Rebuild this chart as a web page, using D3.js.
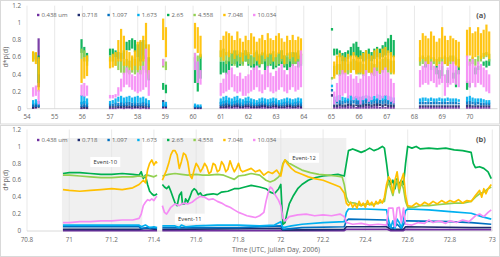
<!doctype html>
<html lang="en">
<head>
<meta charset="UTF-8">
<script src="https://cdnjs.cloudflare.com/ajax/libs/d3/7.8.5/d3.min.js"></script>
<title>d*p(d)</title>
<style>
  body { margin: 0; background: #fff; }
  text { font-family: "Open Sans", sans-serif; }
</style>
</head>
<body>
<script>
// ---------- data ----------
const seriesNames = ["0.438 um", "0.718", "1.097", "1.673", "2.65", "4.558", "7.048", "10.034"];

const yTicks = [0, 0.2, 0.4, 0.6, 0.8, 1, 1.2];
const xTicksA = [54, 55, 56, 57, 58, 59, 60, 61, 62, 63, 64, 65, 66, 67, 68, 69, 70];
const xTicksB = [70.8, 71, 71.2, 71.4, 71.6, 71.8, 72, 72.2, 72.4, 72.6, 72.8, 73];

// panel (a): sample times, grouped by measurement period
const timesA = [
  [54.22, 54.32, 54.42],
  [55.97, 56.07, 56.17],
  [57.0, 57.1, 57.2, 57.3, 57.4, 57.5, 57.6, 57.7, 57.8, 57.9, 58.0, 58.1, 58.2, 58.3, 58.4],
  [58.92, 59.02],
  [60.07, 60.17, 60.27],
  [61.0, 61.1, 61.2, 61.3, 61.4, 61.5, 61.6, 61.7, 61.8, 61.9, 62.0, 62.1, 62.2, 62.3, 62.4,
   62.5, 62.6, 62.7, 62.8, 62.9, 63.0, 63.1, 63.2, 63.3, 63.4, 63.5, 63.6, 63.7, 63.8, 63.9],
  [65.02, 65.1, 65.2, 65.3, 65.4, 65.5, 65.6, 65.7, 65.8, 65.9, 65.97],
  [66.05, 66.15, 66.25, 66.35, 66.45, 66.55, 66.65, 66.75, 66.85, 66.95, 67.05, 67.15, 67.25],
  [68.2, 68.3, 68.4, 68.5, 68.6, 68.7, 68.8, 68.9, 69.0, 69.1, 69.2, 69.3, 69.4, 69.5, 69.6],
  [69.9, 70.0, 70.1, 70.2, 70.3, 70.4, 70.5, 70.6, 70.7]
];

// panel (a): [low, high] spread of each size bin at each sample, in hundredths
const purpleA = [
  [[0,2],[0,3],[25,82]],
  [[0,1],[0,2],[0,1]],
  [[0,1],[0,1],[0,1],[0,2],[0,2],[0,1],[0,2],[0,2],[0,1],[0,2],[0,2],[0,1],[0,2],[0,1],[0,1]],
  [[0,2],[0,2]],
  [[0,1],[0,1],[0,1]],
  [[0,2],[0,2],[0,3],[0,2],[0,2],[0,3],[0,4],[0,2],[0,2],[0,3],[0,3],[0,2],[0,2],[0,2],[0,5],
   [0,4],[0,3],[0,2],[0,2],[0,3],[0,3],[0,2],[0,2],[0,2],[0,3],[0,3],[0,2],[0,2],[0,3],[0,2]],
  [null,[0,2],[0,2],[0,3],[0,2],[0,2],[0,3],[0,3],[0,2],[0,2],[0,2]],
  [[0,2],[0,2],[0,3],[0,3],[0,2],[0,3],[0,3],[0,2],[0,2],[0,2],[0,2],[0,2],[0,2]],
  [[0,2],[0,2],[0,2],[0,2],[0,2],[0,2],[0,2],[0,2],[0,2],[0,2],[0,2],[0,2],[0,2],[0,2],[0,2]],
  [[0,2],[0,2],[0,2],[0,2],[0,2],[0,2],[0,2],[0,2],[0,2]]
];
const navyA = [
  [[0,4],[1,5],[1,4]],
  [[0,3],[0,4],[0,3]],
  [[1,3],[1,3],[1,3],[1,4],[1,4],[1,4],[1,4],[1,4],[1,4],[1,4],[1,4],[1,4],[1,4],[1,3],[1,3]],
  [[1,10],[1,4]],
  [[0,3],[0,3],[0,2]],
  [[1,4],[1,5],[1,6],[2,5],[1,4],[2,5],[2,6],[1,4],[1,4],[2,5],[2,5],[1,4],[1,4],[1,4],[1,4],
   [2,5],[2,5],[1,4],[1,4],[2,5],[2,5],[1,4],[1,4],[1,4],[2,5],[2,5],[1,4],[1,4],[2,5],[1,4]],
  [[14,17],[2,5],[2,5],[3,6],[2,5],[2,5],[3,6],[3,6],[2,5],[3,5],[2,5]],
  [[2,5],[2,6],[3,6],[3,6],[2,5],[3,6],[3,7],[3,6],[2,5],[3,6],[2,5],[2,5],[2,5]],
  [[2,4],[2,4],[2,4],[2,4],[2,4],[2,4],[2,4],[2,4],[2,4],[2,4],[2,4],[2,4],[2,4],[2,4],[2,4]],
  [[2,5],[2,5],[2,4],[2,4],[2,4],[2,4],[2,4],[2,4],[2,4]]
];
const blueA = [
  [[2,6],[2,7],[2,6]],
  [[2,8],[2,9],[2,7]],
  [[3,6],[3,6],[3,7],[3,7],[3,8],[3,7],[3,8],[4,8],[3,7],[3,8],[3,7],[3,7],[3,8],[3,7],[2,6]],
  [[2,6],[2,5]],
  [[1,4],[1,4],[1,3]],
  [[3,8],[3,9],[4,10],[4,9],[3,8],[4,9],[4,10],[3,8],[3,7],[4,9],[4,9],[3,8],[3,7],[3,7],[3,8],
   [4,9],[4,8],[3,7],[3,8],[4,9],[4,8],[3,7],[3,7],[3,8],[4,9],[4,8],[3,7],[3,8],[4,9],[3,8]],
  [[20,23],[5,10],[6,11],[5,10],[5,9],[6,10],[6,11],[5,10],[6,10],[5,10],[5,9]],
  [[5,10],[5,10],[6,11],[6,11],[5,10],[6,11],[6,12],[6,11],[5,10],[6,11],[5,10],[5,9],[5,9]],
  [[5,8],[5,8],[5,8],[5,8],[5,8],[5,8],[5,8],[5,8],[5,8],[5,8],[5,8],[5,8],[5,8],[5,8],[5,7]],
  [[5,9],[5,9],[5,8],[4,8],[5,8],[4,7],[4,7],[4,7],[4,7]]
];
const lightBlueA = [
  [[5,10],[5,11],[4,9]],
  [[5,16],[6,15],[5,12]],
  [[5,9],[6,10],[6,12],[8,14],[7,15],[6,13],[7,14],[8,15],[7,13],[6,14],[7,15],[6,13],[7,14],[6,12],[5,10]],
  [[3,8],[3,8]],
  [[2,6],[2,5],[2,5]],
  [[5,12],[6,14],[7,15],[6,13],[5,12],[6,14],[7,15],[6,12],[5,11],[6,13],[7,14],[6,12],[5,11],[5,10],[6,12],
   [7,13],[6,12],[5,11],[6,12],[7,13],[6,12],[5,10],[5,11],[6,12],[7,13],[6,12],[5,11],[6,12],[7,13],[6,12]],
  [[25,28],[8,14],[9,15],[10,16],[9,14],[8,13],[9,15],[10,16],[9,14],[10,15],[9,14]],
  [[8,14],[9,15],[10,16],[9,15],[8,14],[9,15],[10,17],[10,16],[9,15],[10,16],[9,15],[8,14],[8,13]],
  [[8,12],[8,13],[9,13],[8,12],[9,13],[8,12],[8,12],[9,13],[8,12],[8,12],[9,13],[8,12],[8,12],[8,12],[8,11]],
  [[8,14],[9,15],[8,13],[7,12],[8,12],[7,12],[7,11],[6,10],[6,10]]
];
const greenA = [
  [[58,66],[57,65],[30,62]],
  [[65,81],[60,72],[55,65]],
  [[62,70],[62,70],[60,68],[58,66],[55,65],[58,68],[68,78],[68,80],[70,82],[66,80],[60,75],[55,78],[58,80],[55,75],[33,60]],
  [[22,30],[18,28]],
  [[30,60],[20,55],[35,62]],
  [[40,55],[42,55],[40,56],[45,62],[50,65],[52,68],[48,64],[50,66],[52,65],[55,68],[50,64],[48,62],[45,60],[50,66],[48,62],
   [52,65],[45,60],[48,62],[50,64],[46,60],[48,63],[50,65],[52,68],[48,62],[45,60],[48,64],[50,66],[52,65],[48,62],[50,64]],
  [[91,94],[62,70],[63,70],[60,68],[55,65],[55,66],[58,68],[60,72],[62,76],[60,78],[58,72]],
  [[58,68],[55,66],[56,68],[58,70],[55,66],[58,70],[60,72],[58,70],[60,74],[62,78],[65,82],[62,86],[60,80]],
  [null,null,[48,52],null,[45,55],null,[40,50],[35,45],[38,50],null,[30,45],null,[35,42],[25,45],[40,50]],
  [[22,32],[25,30],null,[40,48],[45,50],null,[50,55],[48,56],[50,58]]
];
const lightGreenA = [
  [[55,65],[55,64],[40,58]],
  [[58,70],[55,68],[50,62]],
  [[55,62],[55,62],[50,60],[45,58],[42,58],[40,55],[42,58],[40,56],[42,60],[40,58],[42,60],[40,58],[45,62],[42,60],[35,55]],
  [[48,58],[45,55]],
  [[55,65],[55,62],[58,64]],
  [[55,68],[55,70],[52,66],[55,68],[52,65],[50,64],[55,68],[52,66],[50,64],[55,68],[52,66],[50,62],[52,65],[55,68],[50,64],
   [52,66],[55,68],[50,64],[52,65],[55,67],[50,63],[52,66],[55,68],[50,62],[52,65],[55,66],[50,64],[52,66],[55,68],[52,64]],
  [[34,37],[38,50],[40,52],[38,52],[40,55],[42,56],[40,52],[42,55],[45,58],[42,56],[40,54]],
  [[40,55],[38,52],[40,56],[42,58],[40,54],[38,52],[42,58],[40,55],[42,58],[45,60],[42,58],[40,56],[42,56]],
  [[50,60],[52,62],[50,60],[52,62],[50,60],[52,60],[50,58],[52,60],[50,60],[52,62],[50,60],[52,62],[54,62],[52,60],[50,58]],
  [null,[50,58],[52,60],[50,58],[52,62],[55,62],[58,65],[60,66],[55,64]]
];
const orangeA = [
  [[55,67],[52,66],[20,60]],
  [[30,58],[35,60],[38,62]],
  [[47,60],[48,64],[50,66],[55,80],[55,93],[50,85],[50,68],[48,66],[45,62],[50,68],[45,78],[50,80],[55,85],[50,100],[40,75]],
  [[80,105],[60,95]],
  [[70,100],[65,95],[60,85]],
  [[60,80],[56,85],[62,90],[60,88],[64,85],[58,80],[62,90],[60,82],[55,78],[62,85],[58,80],[63,88],[60,84],[56,78],[52,82],
   [62,86],[58,80],[60,88],[63,82],[55,80],[60,85],[64,88],[58,82],[52,78],[62,85],[58,80],[60,86],[55,80],[58,84],[62,82]],
  [null,[35,55],[40,62],[45,65],[42,62],[40,60],[45,64],[42,62],[45,66],[40,62],[42,60]],
  [[42,62],[40,65],[45,68],[42,64],[40,62],[45,68],[48,70],[42,65],[45,70],[48,72],[45,68],[42,66],[40,62]],
  [[55,80],[58,88],[55,85],[52,82],[58,90],[55,85],[50,78],[55,82],[58,95],[52,85],[50,80],[55,85],[52,82],[50,80],[48,78]],
  [[60,92],[62,95],[58,88],[60,90],[62,95],[58,88],[60,92],[62,98],[58,90]]
];
const pinkA = [
  [[14,25],[15,27],[5,22]],
  [[15,28],[14,30],[15,27]],
  [[12,16],[12,16],[13,17],[15,25],[20,35],[25,42],[28,48],[25,45],[22,40],[20,38],[18,42],[20,45],[22,50],[25,70],[15,45]],
  [[50,58],null],
  [[45,65],[30,55],[28,45]],
  [[15,30],[18,35],[20,42],[22,45],[25,48],[20,40],[18,38],[20,42],[15,35],[15,38],[18,40],[20,45],[22,48],[25,50],[20,45],
   [18,40],[22,45],[25,50],[20,42],[18,38],[20,44],[22,48],[25,52],[20,45],[18,40],[22,48],[25,52],[20,50],[22,55],[25,68]],
  [null,[5,20],[8,30],[10,40],[15,45],[18,42],[12,38],[15,40],[10,35],[12,38],[10,30]],
  [[5,35],[10,40],[12,45],[8,38],[10,42],[15,48],[12,44],[10,40],[12,45],[15,48],[10,42],[8,35],[6,30]],
  [[25,45],[28,50],[30,55],[28,52],[32,55],[30,50],[25,48],[28,52],[30,55],[15,40],[25,48],[28,52],[30,55],[28,50],[25,45]],
  [[30,62],[25,55],[30,58],[25,50],[30,55],[28,52],[25,48],[20,45],[18,40]]
];

// panel (b): [time, value]; null value = no data
const purpleB = [[70.97,0.005],[71.415,0.005],[71.42,null],[71.44,0.005],[72.3,0.005],[72.31,0.02],[72.5,0.02],
  [72.52,0.005],[72.58,0.005],[72.59,0.02],[72.995,0.015]];
const navyB = [[70.97,0.02],[71.33,0.02],[71.36,0.03],[71.415,0.02],[71.42,null],[71.44,0.02],[72.0,0.03],[72.01,0.01],
  [72.3,0.02],[72.31,0.05],[72.5,0.05],[72.52,0.02],[72.58,0.02],[72.59,0.05],[72.9,0.04],[72.995,0.04]];
const blueB = [[70.97,0.05],[71.33,0.05],[71.34,0.03],[71.38,0.04],[71.415,0.03],[71.42,null],[71.44,0.04],[71.6,0.04],
  [71.8,0.04],[72.0,0.06],[72.01,0.02],[72.1,0.04],[72.3,0.05],[72.31,0.12],[72.32,0.14],[72.5,0.13],[72.51,0.06],
  [72.53,0.03],[72.55,0.08],[72.57,0.03],[72.59,0.12],[72.6,0.12],[72.8,0.11],[72.9,0.1],[72.995,0.08]];
const lightBlueB = [[70.97,0.07],[71.1,0.07],[71.2,0.07],[71.33,0.07],[71.34,0.05],[71.36,0.07],[71.38,0.04],[71.4,0.05],
  [71.415,0.04],[71.42,null],[71.44,0.06],[71.5,0.06],[71.52,0.04],[71.53,0.07],[71.55,0.05],[71.6,0.06],[71.7,0.07],
  [71.8,0.07],[71.9,0.06],[71.97,0.07],[72.0,0.11],[72.01,0.04],[72.05,0.06],[72.1,0.08],[72.2,0.1],[72.3,0.11],
  [72.31,0.22],[72.32,0.26],[72.4,0.26],[72.5,0.25],[72.51,0.12],[72.52,0.04],[72.53,0.12],[72.54,0.03],[72.55,0.14],
  [72.56,0.1],[72.57,0.04],[72.58,0.13],[72.59,0.24],[72.6,0.26],[72.7,0.25],[72.8,0.23],[72.9,0.21],[72.95,0.17],[72.995,0.14]];
const greenB = [[70.97,0.68],[71.0,0.69],[71.05,0.69],[71.1,0.68],[71.15,0.67],[71.2,0.67],[71.25,0.68],[71.3,0.67],
  [71.33,0.66],[71.34,0.7],[71.35,0.62],[71.36,0.66],[71.37,0.55],[71.38,0.47],[71.39,0.44],[71.4,0.42],[71.41,0.43],
  [71.415,0.44],[71.42,null],[71.44,0.55],[71.45,0.52],[71.46,0.5],[71.47,0.53],[71.48,0.47],[71.49,0.4],[71.5,0.33],
  [71.51,0.3],[71.52,0.42],[71.53,0.46],[71.535,0.32],[71.545,0.32],[71.55,0.38],[71.56,0.34],[71.57,0.4],[71.58,0.47],
  [71.59,0.5],[71.6,0.48],[71.61,0.43],[71.62,0.45],[71.63,0.41],[71.65,0.43],[71.68,0.44],[71.7,0.43],[71.72,0.46],
  [71.75,0.47],[71.78,0.5],[71.8,0.5],[71.83,0.52],[71.86,0.54],[71.9,0.52],[71.93,0.5],[71.95,0.46],[71.97,0.44],
  [71.99,0.5],[72.0,0.55],[72.005,0.3],[72.01,0.08],[72.02,0.1],[72.03,0.22],[72.04,0.32],[72.06,0.42],[72.08,0.5],
  [72.1,0.55],[72.13,0.6],[72.16,0.63],[72.2,0.65],[72.24,0.66],[72.27,0.67],[72.3,0.65],[72.31,0.8],[72.32,0.95],
  [72.34,0.97],[72.36,0.95],[72.38,0.93],[72.4,0.95],[72.42,0.98],[72.44,0.95],[72.46,0.97],[72.48,1.0],[72.49,0.98],
  [72.5,0.8],[72.51,0.6],[72.52,0.55],[72.53,0.6],[72.54,0.5],[72.55,0.62],[72.56,0.55],[72.57,0.6],[72.58,0.55],
  [72.59,0.8],[72.6,1.0],[72.62,0.98],[72.64,1.0],[72.66,0.97],[72.7,0.98],[72.74,0.97],[72.78,0.98],[72.82,0.96],
  [72.86,0.95],[72.9,0.93],[72.91,0.8],[72.92,0.75],[72.94,0.76],[72.96,0.74],[72.98,0.7],[72.995,0.62]];
const lightGreenB = [[70.97,0.66],[71.0,0.66],[71.05,0.65],[71.1,0.64],[71.15,0.63],[71.2,0.63],[71.25,0.64],[71.3,0.64],
  [71.33,0.65],[71.35,0.64],[71.37,0.66],[71.4,0.64],[71.415,0.66],[71.42,null],[71.44,0.65],[71.47,0.67],[71.5,0.68],
  [71.53,0.67],[71.56,0.66],[71.6,0.67],[71.63,0.66],[71.66,0.66],[71.7,0.67],[71.73,0.66],[71.76,0.63],[71.78,0.61],
  [71.8,0.65],[71.83,0.66],[71.86,0.68],[71.9,0.66],[71.93,0.6],[71.95,0.58],[71.97,0.6],[71.99,0.64],[72.0,0.68],
  [72.01,0.8],[72.02,0.84],[72.04,0.8],[72.07,0.76],[72.1,0.72],[72.14,0.69],[72.18,0.67],[72.22,0.66],[72.26,0.65],
  [72.29,0.64],[72.3,0.55],[72.31,0.4],[72.32,0.34],[72.35,0.33],[72.38,0.3],[72.4,0.32],[72.43,0.31],[72.46,0.33],
  [72.49,0.35],[72.5,0.5],[72.51,0.58],[72.52,0.5],[72.53,0.42],[72.54,0.55],[72.55,0.6],[72.56,0.45],[72.57,0.58],
  [72.58,0.5],[72.59,0.35],[72.6,0.28],[72.63,0.28],[72.66,0.3],[72.7,0.3],[72.74,0.31],[72.78,0.32],[72.82,0.33],
  [72.86,0.33],[72.9,0.35],[72.92,0.4],[72.94,0.44],[72.96,0.46],[72.98,0.5],[72.995,0.52]];
const orangeB = [[70.97,0.49],[71.0,0.48],[71.05,0.47],[71.1,0.48],[71.15,0.49],[71.2,0.5],[71.25,0.49],[71.3,0.51],
  [71.33,0.55],[71.35,0.6],[71.36,0.57],[71.37,0.72],[71.38,0.8],[71.39,0.84],[71.4,0.78],[71.41,0.82],[71.415,0.8],
  [71.42,null],[71.44,0.6],[71.45,0.66],[71.46,0.72],[71.47,0.8],[71.48,0.9],[71.49,0.95],[71.5,0.95],[71.51,0.9],
  [71.52,0.74],[71.53,0.82],[71.54,0.92],[71.55,0.9],[71.56,0.82],[71.57,0.66],[71.58,0.62],[71.59,0.72],[71.6,0.8],
  [71.61,0.76],[71.62,0.7],[71.63,0.74],[71.64,0.8],[71.65,0.76],[71.66,0.68],[71.67,0.7],[71.68,0.8],[71.69,0.78],
  [71.7,0.7],[71.71,0.72],[71.72,0.82],[71.73,0.78],[71.74,0.7],[71.75,0.73],[71.76,0.83],[71.77,0.76],[71.78,0.7],
  [71.79,0.74],[71.8,0.8],[71.81,0.72],[71.82,0.7],[71.84,0.72],[71.86,0.74],[71.88,0.7],[71.9,0.72],[71.92,0.66],
  [71.94,0.7],[71.96,0.68],[71.98,0.72],[72.0,0.65],[72.01,0.78],[72.02,0.84],[72.03,0.8],[72.05,0.74],[72.07,0.7],
  [72.1,0.67],[72.13,0.64],[72.16,0.62],[72.2,0.6],[72.23,0.57],[72.26,0.54],[72.28,0.52],[72.3,0.45],[72.31,0.33],
  [72.32,0.3],[72.33,0.34],[72.34,0.28],[72.35,0.32],[72.36,0.27],[72.37,0.35],[72.38,0.3],[72.39,0.33],[72.4,0.28],
  [72.41,0.36],[72.42,0.31],[72.43,0.34],[72.44,0.29],[72.45,0.35],[72.46,0.32],[72.47,0.37],[72.48,0.33],[72.49,0.4],
  [72.5,0.55],[72.51,0.64],[72.52,0.6],[72.53,0.45],[72.54,0.6],[72.55,0.7],[72.56,0.5],[72.57,0.6],[72.58,0.68],
  [72.59,0.42],[72.6,0.3],[72.62,0.29],[72.64,0.33],[72.66,0.3],[72.68,0.34],[72.7,0.31],[72.72,0.35],[72.74,0.32],
  [72.76,0.36],[72.78,0.33],[72.8,0.36],[72.82,0.34],[72.84,0.37],[72.86,0.33],[72.88,0.36],[72.9,0.35],[72.92,0.42],
  [72.94,0.48],[72.95,0.4],[72.96,0.5],[72.97,0.44],[72.98,0.5],[72.995,0.55]];
const pinkB = [[70.97,0.1],[71.0,0.1],[71.05,0.11],[71.1,0.11],[71.15,0.12],[71.2,0.12],[71.25,0.13],[71.3,0.13],
  [71.33,0.15],[71.34,0.2],[71.35,0.3],[71.36,0.34],[71.37,0.37],[71.38,0.36],[71.39,0.38],[71.4,0.36],[71.41,0.4],
  [71.415,0.41],[71.42,null],[71.44,0.3],[71.45,0.22],[71.46,0.2],[71.47,0.24],[71.48,0.28],[71.49,0.3],[71.5,0.32],
  [71.52,0.3],[71.54,0.33],[71.56,0.32],[71.58,0.34],[71.6,0.38],[71.62,0.41],[71.64,0.4],[71.66,0.37],[71.68,0.38],
  [71.7,0.35],[71.72,0.33],[71.74,0.3],[71.76,0.28],[71.78,0.25],[71.8,0.22],[71.82,0.2],[71.84,0.18],[71.86,0.17],
  [71.88,0.16],[71.9,0.18],[71.92,0.22],[71.93,0.35],[71.94,0.45],[71.95,0.52],[71.96,0.5],[71.97,0.44],[71.98,0.4],
  [71.99,0.36],[72.0,0.3],[72.01,0.15],[72.02,0.12],[72.04,0.17],[72.08,0.19],[72.12,0.2],[72.16,0.18],[72.2,0.19],
  [72.24,0.18],[72.28,0.2],[72.3,0.17],[72.31,0.1],[72.34,0.08],[72.38,0.09],[72.42,0.07],[72.46,0.08],[72.5,0.07],
  [72.51,0.27],[72.53,0.27],[72.54,0.05],[72.55,0.27],[72.56,0.28],[72.57,0.1],[72.58,0.27],[72.59,0.08],[72.62,0.07],
  [72.65,0.1],[72.68,0.09],[72.7,0.13],[72.72,0.1],[72.75,0.12],[72.78,0.09],[72.8,0.12],[72.83,0.1],[72.86,0.13],
  [72.89,0.11],[72.92,0.18],[72.94,0.2],[72.96,0.17],[72.98,0.22],[72.995,0.25]];

// shaded event periods in panel (b)
const eventSpans = [[70.965, 71.345], [71.44, 71.64], [71.94, 72.31]];
const eventNames = ["Event-10", "Event-11", "Event-12"];
const eventLabelPos = [[71.17, 0.81], [71.57, 0.14], [72.11, 0.86]];

// ---------- drawing ----------
const colors = ["#7030A0", "#1F2C6E", "#0070C0", "#00B0F0", "#00B050", "#92D050", "#FFC000", "#F58CF5"];
const seriesA = [purpleA, navyA, blueA, lightBlueA, greenA, lightGreenA, orangeA, pinkA];
const seriesB = [purpleB, navyB, blueB, lightBlueB, greenB, lightGreenB, orangeB, pinkB];

const svg = d3.select("body").append("svg").attr("width", 500).attr("height", 257);

function panel(top, bottom, x0, x1, domain, xTicks, tag) {
    const x = d3.scaleLinear().domain(domain).range([x0, x1]);
    const y = d3.scaleLinear().domain([0, 1.2]).range([bottom, top]);
    const g = svg.append("g");

    g.append("g").selectAll("line").data(xTicks).join("line")
        .attr("x1", d => x(d)).attr("x2", d => x(d))
        .attr("y1", y(1.2)).attr("y2", y(0))
        .attr("stroke", "#e3e3e3").attr("stroke-width", 0.8);

    g.append("line").attr("x1", x0).attr("x2", x1).attr("y1", y(0)).attr("y2", y(0))
        .attr("stroke", "#d0d0d0").attr("stroke-width", 0.8);

    g.append("g").selectAll("text").data(yTicks).join("text")
        .attr("x", 21).attr("y", d => y(d) + 2.2)
        .attr("text-anchor", "end").attr("font-size", 6.3).attr("fill", "#666")
        .text(d => d);

    g.append("g").selectAll("text").data(xTicks).join("text")
        .attr("x", d => x(d)).attr("y", y(0) + 10.5)
        .attr("text-anchor", "middle").attr("font-size", 6.3).attr("fill", "#666")
        .text(d => d);

    g.append("text")
        .attr("transform", `translate(8,${(y(0) + y(1.2)) / 2}) rotate(-90)`)
        .attr("text-anchor", "middle").attr("font-size", 7).attr("fill", "#666")
        .text("d*p(d)");

    g.append("text").attr("x", 481).attr("y", y(1.2) + 12)
        .attr("text-anchor", "middle").attr("font-size", 7.5).attr("font-weight", "bold")
        .attr("fill", "#555").text(tag);

    return {g, x, y};
}

function legend(g, yPos) {
    let cx = 37;
    seriesNames.forEach((name, i) => {
        g.append("rect").attr("x", cx).attr("y", yPos - 1.2).attr("width", 2.4).attr("height", 2.4)
            .attr("fill", colors[i]);
        const t = g.append("text").attr("x", cx + 4.5).attr("y", yPos + 2)
            .attr("font-size", 6).attr("fill", "#666").text(name);
        cx += 4.5 + t.node().getComputedTextLength() + 10;
    });
}

// frames
svg.append("rect").attr("x", 0.5).attr("y", 0.5).attr("width", 499).attr("height", 123.5)
    .attr("fill", "none").attr("stroke", "#d9d9d9");
svg.append("rect").attr("x", 0.5).attr("y", 125.5).attr("width", 499).attr("height", 131)
    .attr("fill", "none").attr("stroke", "#d9d9d9");

// panel (a): each sample drawn as a thin streak spanning its spread
const A = panel(5.7, 108.7, 27, 497.5, [54, 71], xTicksA, "(a)");
const barsA = [];
seriesA.forEach((ser, si) => {
    ser.forEach((seg, gi) => {
        seg.forEach((r, k) => {
            if (r && timesA[gi][k] !== undefined) barsA.push({t: timesA[gi][k], lo: r[0] / 100, hi: r[1] / 100, s: si});
        });
    });
});
A.g.append("g").selectAll("rect").data(barsA).join("rect")
    .attr("x", d => A.x(d.t) - 1.1).attr("width", 2.2)
    .attr("y", d => A.y(d.hi))
    .attr("height", d => Math.max(1.3, A.y(d.lo) - A.y(d.hi)))
    .attr("fill", d => colors[d.s]).attr("fill-opacity", 0.92);
legend(A.g, 15);

// panel (b)
const B = panel(129.5, 231, 27, 492.3, [70.8, 73], xTicksB, "(b)");
B.g.insert("g", ":first-child").selectAll("rect").data(eventSpans).join("rect")
    .attr("x", d => B.x(d[0])).attr("width", d => B.x(d[1]) - B.x(d[0]))
    .attr("y", B.y(1.1)).attr("height", B.y(0) - B.y(1.1))
    .attr("fill", "#f0f0f0");

const line = d3.line().defined(d => d[1] !== null).x(d => B.x(d[0])).y(d => B.y(d[1]));
B.g.append("g").selectAll("path").data(seriesB).join("path")
    .attr("d", line).attr("fill", "none")
    .attr("stroke", (d, i) => colors[i]).attr("stroke-width", 1.7)
    .attr("stroke-linejoin", "round");

const ev = B.g.append("g").selectAll("g").data(eventNames).join("g")
    .attr("transform", (d, i) => `translate(${B.x(eventLabelPos[i][0])},${B.y(eventLabelPos[i][1])})`);
ev.append("rect").attr("x", -15).attr("y", -5.5).attr("width", 30).attr("height", 10).attr("fill", "#fff");
ev.append("text").attr("text-anchor", "middle").attr("y", 2).attr("font-size", 5.8).attr("fill", "#333").text(d => d);

legend(B.g, 140);

svg.append("text").attr("x", 276).attr("y", 251.5).attr("text-anchor", "middle")
    .attr("font-size", 6.8).attr("fill", "#666").text("Time (UTC, Julian Day, 2006)");
</script>
</body>
</html>
